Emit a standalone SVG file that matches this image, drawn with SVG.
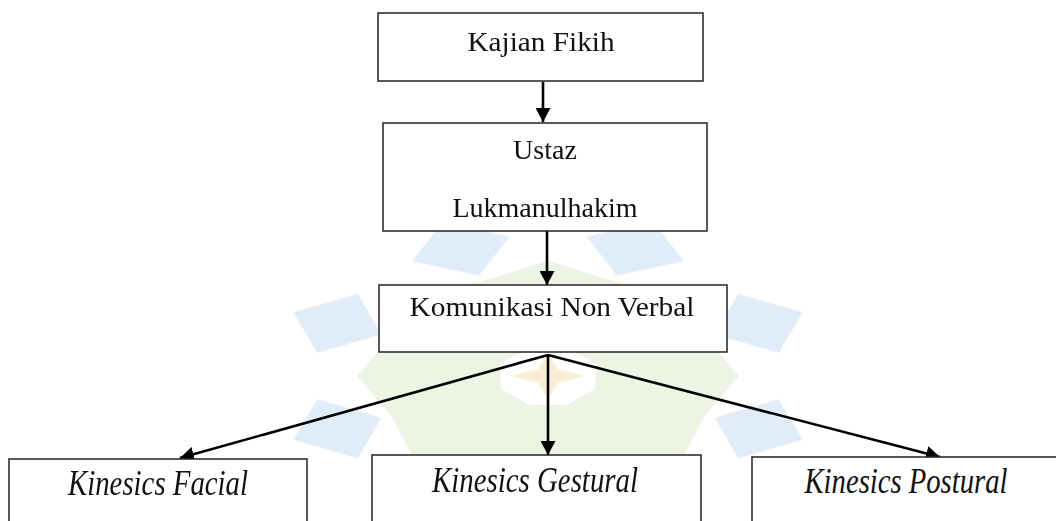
<svg xmlns="http://www.w3.org/2000/svg" xmlns:xlink="http://www.w3.org/1999/xlink" width="1056" height="521" viewBox="0 0 1056 521">
<style>
.box{fill:#ffffff;stroke:#222222;stroke-width:1.5}
.t{font-family:"Liberation Serif","Times New Roman",serif;font-size:28px;fill:#111111;text-anchor:middle}
.ti{font-family:"Liberation Serif","Times New Roman",serif;font-size:28px;font-style:italic;fill:#111111;text-anchor:middle}
.con{stroke:#000000;stroke-width:2.6;fill:none;marker-end:url(#ah)}
.wb{fill:#d3e6f5;opacity:0.7}
.wg{fill:#e8f1dc;opacity:0.75}
</style>
<defs>
<marker id="ah" viewBox="0 0 14 15" refX="14" refY="7.5" markerWidth="14" markerHeight="15" markerUnits="userSpaceOnUse" orient="auto">
<path d="M0,0 L14,7.5 L0,15 z" fill="#000000"/>
</marker>
<polygon id="kb" points="68,0 86,-20 104,0 86,20"/>
<polygon id="kg" points="18,-9 58,-27 72,0 58,27 18,9"/>
</defs>
<rect width="1056" height="521" fill="#ffffff"/>
<g id="watermark" transform="translate(548,376) scale(2.65,1.6)">
<g class="wg">
<use xlink:href="#kg" transform="rotate(0)"/>
<use xlink:href="#kg" transform="rotate(45)"/>
<use xlink:href="#kg" transform="rotate(90)"/>
<use xlink:href="#kg" transform="rotate(135)"/>
<use xlink:href="#kg" transform="rotate(180)"/>
<use xlink:href="#kg" transform="rotate(225)"/>
<use xlink:href="#kg" transform="rotate(270)"/>
<use xlink:href="#kg" transform="rotate(315)"/>
</g>
<g class="wb">
<use xlink:href="#kb" transform="rotate(22.5)"/>
<use xlink:href="#kb" transform="rotate(67.5)"/>
<use xlink:href="#kb" transform="rotate(112.5)"/>
<use xlink:href="#kb" transform="rotate(157.5)"/>
<use xlink:href="#kb" transform="rotate(202.5)"/>
<use xlink:href="#kb" transform="rotate(247.5)"/>
<use xlink:href="#kb" transform="rotate(292.5)"/>
<use xlink:href="#kb" transform="rotate(337.5)"/>
</g>
<polygon points="0,-14 4,-4 14,0 4,4 0,14 -4,4 -14,0 -4,-4" fill="#f8ebc9" opacity="0.8"/>
</g>
<g id="connectors">
<line class="con" x1="543" y1="82" x2="543" y2="122"/>
<line class="con" x1="547" y1="231" x2="547" y2="285"/>
<line class="con" x1="548" y1="355" x2="180" y2="458"/>
<line class="con" x1="548" y1="355" x2="548" y2="455"/>
<line class="con" x1="548" y1="355" x2="940" y2="457"/>
</g>
<g id="kajian-fikih">
<rect class="box" x="378" y="13" width="325" height="68"/>
<text class="t" x="541" y="51" textLength="147" lengthAdjust="spacingAndGlyphs">Kajian Fikih</text>
</g>
<g id="ustaz">
<rect class="box" x="383" y="123" width="324" height="108"/>
<text class="t" x="545" y="159">Ustaz</text>
<text class="t" x="545" y="217">Lukmanulhakim</text>
</g>
<g id="komunikasi">
<rect class="box" x="379" y="285" width="348" height="67"/>
<text class="t" x="552" y="316" textLength="285" lengthAdjust="spacingAndGlyphs">Komunikasi Non Verbal</text>
</g>
<g id="facial">
<rect class="box" x="9" y="459" width="298" height="80"/>
<text class="ti" transform="translate(158,495) scale(1,1.3)" textLength="180" lengthAdjust="spacingAndGlyphs">Kinesics Facial</text>
</g>
<g id="gestural">
<rect class="box" x="372" y="455" width="329" height="80"/>
<text class="ti" transform="translate(535,492) scale(1,1.3)" textLength="206" lengthAdjust="spacingAndGlyphs">Kinesics Gestural</text>
</g>
<g id="postural">
<rect class="box" x="752" y="457" width="330" height="80"/>
<text class="ti" transform="translate(906,493) scale(1,1.3)" textLength="203" lengthAdjust="spacingAndGlyphs">Kinesics Postural</text>
</g>
</svg>
